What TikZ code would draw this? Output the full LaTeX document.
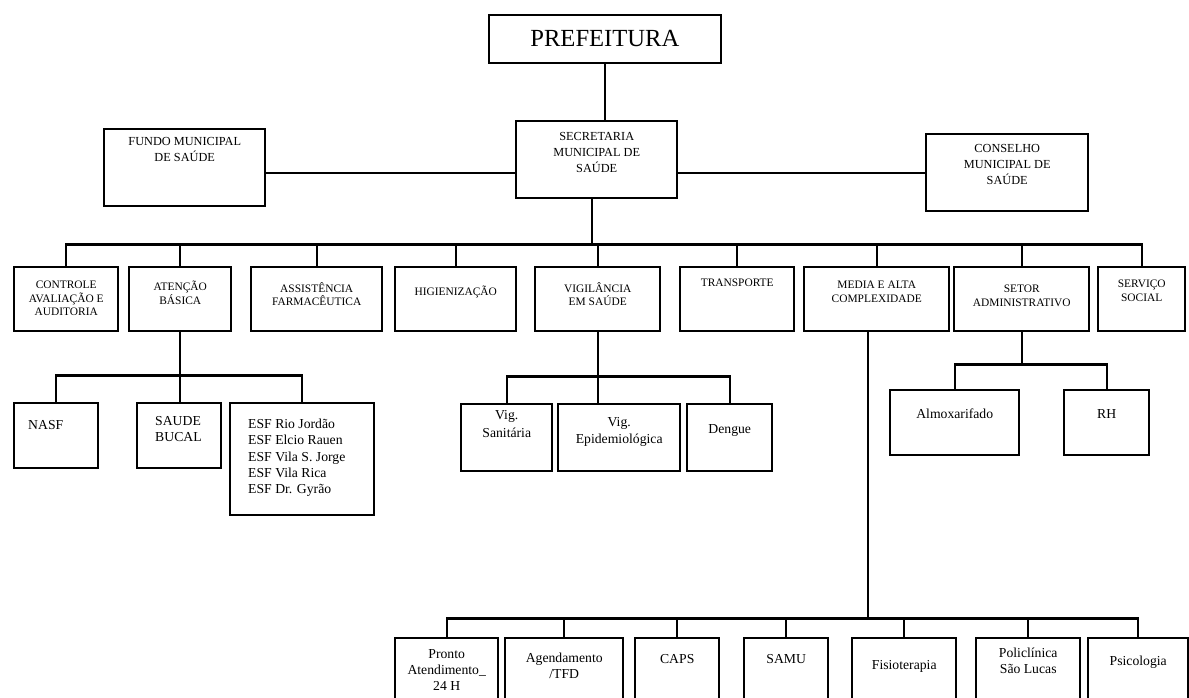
\documentclass[tikz,border=0pt]{standalone}
\usepackage{fontspec}
\setmainfont{Liberation Serif}

\begin{document}
\begin{tikzpicture}[x=0.02cm, y=-0.02cm, line width=1.4pt,
  unit/.style 2 args={draw, anchor=north west, inner sep=0pt, minimum width=#1*0.02cm, minimum height=#2*0.02cm},
  tag/.style={anchor=north, inner sep=0pt, align=center, font=\fontsize{6.5}{7.6}\selectfont},
  big tag/.style={tag, font=\fontsize{7}{9}\selectfont},
  low tag/.style={tag, font=\fontsize{7.8}{9.2}\selectfont},
  left tag/.style={low tag, anchor=north west, align=left}]

  \useasboundingbox (0,0) rectangle (1189,697);
  \clip (0,0) rectangle (1189,697);

  % top
  \node[unit={232}{48}, line width=1pt, font=\fontsize{14}{16}\selectfont] (pref) at (488,14) {PREFEITURA};
  \node[unit={161}{77}, label={[big tag, yshift=-0.22cm]north:SECRETARIA\\MUNICIPAL DE\\SAÚDE}] (sec) at (515,120) {};
  \node[unit={161}{77}, label={[big tag, yshift=-0.16cm]north:FUNDO MUNICIPAL\\DE SAÚDE}] (fund) at (103,128) {};
  \node[unit={162}{77}, label={[big tag, yshift=-0.2cm]north:CONSELHO\\MUNICIPAL DE\\SAÚDE}] (cons) at (925,133) {};

  % secretaria sectors
  \node[unit={104}{64}, label={[tag, yshift=-0.28cm]north:CONTROLE\\AVALIAÇÃO E\\AUDITORIA}] (ctrl) at (13,266) {};
  \node[unit={102}{64}, label={[tag, yshift=-0.28cm]north:ATENÇÃO\\BÁSICA}] (aten) at (128,266) {};
  \node[unit={131}{64}, label={[tag, yshift=-0.3cm]north:ASSISTÊNCIA\\FARMACÊUTICA}] (assi) at (250,266) {};
  \node[unit={121}{64}, label={[tag, yshift=-0.38cm]north:HIGIENIZAÇÃO}] (higi) at (394,266) {};
  \node[unit={125}{64}, label={[tag, yshift=-0.3cm]north:VIGILÂNCIA\\EM SAÚDE}] (vigi) at (534,266) {};
  \node[unit={114}{64}, label={[tag, yshift=-0.24cm]north:TRANSPORTE}] (tran) at (679,266) {};
  \node[unit={145}{64}, label={[tag, yshift=-0.28cm]north:MEDIA E ALTA\\COMPLEXIDADE}] (medi) at (803,266) {};
  \node[unit={135}{64}, label={[tag, yshift=-0.36cm]north:SETOR\\ADMINISTRATIVO}] (seto) at (953,266) {};
  \node[unit={87}{64}, label={[tag, yshift=-0.26cm]north:SERVIÇO\\SOCIAL}] (serv) at (1097,266) {};

  % atencao basica
  \node[unit={84}{65}, label={[left tag, xshift=0.28cm, yshift=-0.34cm]north west:NASF}] (nasf) at (13,402) {};
  \node[unit={84}{65}, label={[left tag, xshift=0.36cm, yshift=-0.26cm]north west:SAUDE\\BUCAL}] (bucal) at (136,402) {};
  \node[unit={144}{112}, label={[left tag, xshift=0.36cm, yshift=-0.32cm]north west:ESF Rio Jordão\\ESF Elcio Rauen\\ESF Vila S. Jorge\\ESF Vila Rica\\ESF Dr. Gyrão}] (esf) at (229,402) {};

  % vigilancia
  \node[unit={91}{67}, label={[low tag, yshift=-0.12cm, font=\fontsize{7.8}{10.5}\selectfont]north:Vig.\\Sanitária}] (vsan) at (460,403) {};
  \node[unit={122}{67}, label={[low tag, yshift=-0.26cm, font=\fontsize{7.8}{9.6}\selectfont]north:Vig.\\Epidemiológica}] (vepi) at (557,403) {};
  \node[unit={85}{67}, label={[low tag, yshift=-0.4cm]north:Dengue}] (deng) at (686,403) {};

  % setor administrativo
  \node[unit={129}{65}, label={[low tag, yshift=-0.38cm]north:Almoxarifado}] (almo) at (889,389) {};
  \node[unit={85}{65}, label={[low tag, yshift=-0.38cm]north:RH}] (rh) at (1063,389) {};

  % media e alta complexidade
  \node[unit={103}{90}, label={[low tag, yshift=-0.22cm]north:Pronto\\Atendimento\_\\24 H}] (pron) at (394,637) {};
  \node[unit={118}{90}, label={[low tag, yshift=-0.3cm]north:Agendamento\\/TFD}] (agen) at (504,637) {};
  \node[unit={84}{90}, label={[low tag, yshift=-0.32cm]north:CAPS}] (caps) at (634,637) {};
  \node[unit={84}{90}, label={[low tag, yshift=-0.32cm]north:SAMU}] (samu) at (743,637) {};
  \node[unit={104}{90}, label={[low tag, yshift=-0.44cm]north:Fisioterapia}] (fisi) at (851,637) {};
  \node[unit={104}{90}, label={[low tag, yshift=-0.2cm]north:Policlínica\\São Lucas}] (poli) at (975,637) {};
  \node[unit={100}{90}, label={[low tag, yshift=-0.36cm]north:Psicologia}] (psic) at (1087,637) {};

  % connectors
  \draw (pref.south) -- (pref.south |- sec.north);
  \draw (sec.west |- cons.west) -- (fund.east |- cons.west);
  \draw (sec.east |- cons.west) -- (cons.west);
  \path (sec.south) ++(-5,45) coordinate (bus1);
  \draw (bus1 |- sec.south) -- (bus1);
  \foreach \n in {ctrl,aten,assi,higi,vigi,tran,medi,seto,serv}
    \draw (bus1) -| (\n.north);

  \path (aten.south) ++(0,43) coordinate (bus2);
  \draw (aten.south) -- (aten.south |- bucal.north);
  \draw (nasf.north) |- (bus2) -| (esf.north);

  \path (vigi.south) ++(0,44) coordinate (bus3);
  \draw (vigi.south) -- (vigi.south |- vepi.north);
  \draw (vsan.north) |- (bus3) -| (deng.north);

  \path (seto.south) ++(0,32) coordinate (bus5);
  \draw (seto.south) -- (bus5);
  \draw (almo.north) |- (bus5) -| (rh.north);

  \path (medi.south) ++(-9,286) coordinate (bus4);
  \draw (bus4 |- medi.south) -- (bus4);
  \draw (pron.north) |- (bus4) -| (psic.north);
  \foreach \n in {agen,caps,samu,fisi,poli}
    \draw (bus4 -| \n.north) -- (\n.north);
\end{tikzpicture}
\end{document}
